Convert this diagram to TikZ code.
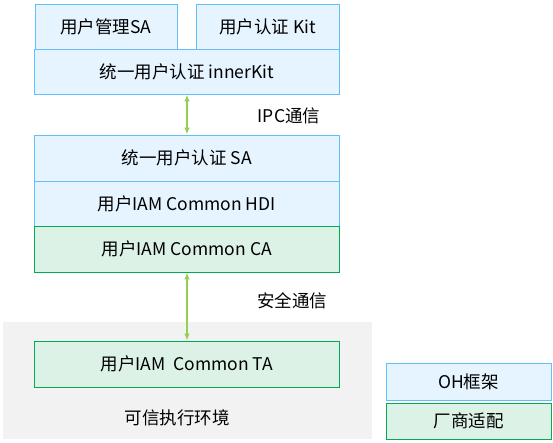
\documentclass[tikz,border=0pt]{standalone}
\usepackage{fontspec}
\setmainfont{Noto Sans CJK SC}
\usetikzlibrary{arrows.meta}
\definecolor{ohfill}{RGB}{230,244,255}
\definecolor{ohline}{RGB}{100,190,250}
\definecolor{vdfill}{RGB}{221,242,230}
\definecolor{vdline}{RGB}{0,172,80}
\definecolor{teefill}{RGB}{242,242,242}
\definecolor{link}{RGB}{146,208,80}
\tikzset{
  ohbox/.style={draw=ohline, fill=ohfill, line width=0.9pt, inner sep=0pt},
  vdbox/.style={draw=vdline, fill=vdfill, line width=0.9pt, inner sep=0pt},
  comm/.style={{Latex[length=7pt,width=5.5pt]}-{Latex[length=7pt,width=5.5pt]}, link, line width=2pt}
}

\begin{document}
\begin{tikzpicture}[x=1pt, y=-1pt, font=\fontsize{17.5}{20}\selectfont]
\useasboundingbox (0,0) rectangle (553,443);
% Trusted execution environment
    \fill[teefill] (3,322) rectangle (372,439);
    \node (tee) at (177,418) {可信执行环境};
% OH framework
    \node[ohbox, minimum width=142pt, minimum height=45pt] (mgmt) at (106,26.5) {用户管理SA};
    \node[ohbox, minimum width=143.5pt, minimum height=45pt] (kit) at (267.8,26.5) {用户认证 Kit};
    \node[ohbox, minimum width=305.5pt, minimum height=45pt] (inner) at (186.8,71.5) {统一用户认证 innerKit};
    \node[ohbox, minimum width=305.5pt, minimum height=46pt] (sa) at (186.8,158) {统一用户认证 SA};
    \node[ohbox, minimum width=305.5pt, minimum height=45pt] (hdi) at (186.8,203.5) {用户IAM Common HDI};
% Vendor adaptation
    \node[vdbox, minimum width=305.5pt, minimum height=46pt] (ca) at (186.8,249) {用户IAM Common CA};
    \node[vdbox, minimum width=305.5pt, minimum height=46pt] (ta) at (186.8,364) {用户IAM\ \ Common TA};
% Legend
    \node[ohbox, minimum width=165pt, minimum height=37pt] (ohkey) at (468.5,381.5) {OH框架};
    \node[vdbox, minimum width=165pt, minimum height=36pt] (vdkey) at (468.5,421) {厂商适配};
% Links
    \draw[comm] (inner.south -| 187,0) -- (sa.north -| 187,0);
    \draw[comm] (ca.south -| 187,0) -- (ta.north -| 187,0);
    \node (ipc) at (289,116) {IPC通信};
    \node (sec) at (292,301) {安全通信};
\end{tikzpicture}
\end{document}
